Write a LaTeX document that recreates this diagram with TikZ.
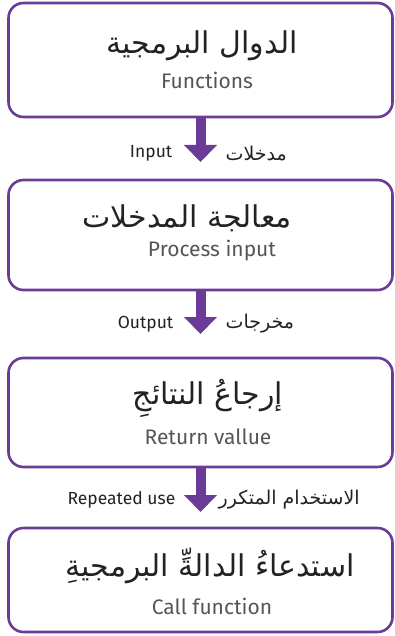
\documentclass[tikz,border=0pt]{standalone}
\usepackage{fontspec}
\setmainfont{Fira Sans}
\newfontfamily\arabicfont[Script=Arabic]{DejaVu Sans}
\TeXXeTstate=1
\usetikzlibrary{arrows.meta,positioning}
\definecolor{fpurple}{RGB}{107,59,151}
\definecolor{fgray}{RGB}{85,85,85}
\definecolor{fdark}{RGB}{34,34,34}

\begin{document}
\begin{tikzpicture}[
	x = 1pt, y = 1pt,
	flow/.style={draw=fpurple, line width=10pt, -{Triangle[width=32pt, length=17pt]}}, % thick arrow
	B/.style={rectangle, rounded corners=15pt, draw=fpurple, line width=2.6pt, minimum width=384pt, outer sep=0pt, inner sep=0pt},
	T/.style={font=\arabicfont\fontsize{30}{32}\selectfont, text=fdark, inner sep=0pt},   % arabic title
	S/.style={font=\fontsize{21}{24}\selectfont, text=fgray, inner sep=0pt},              % english subtitle
	L/.style={font=\fontsize{17.5}{20}\selectfont, text=fdark, inner sep=0pt},            % arrow labels
	LA/.style={font=\arabicfont\fontsize{19}{21}\selectfont, text=fdark, inner sep=0pt},
	]
	\useasboundingbox (0,0) rectangle (395,-636);

	% Boxes and their relative positions
	\node[B, minimum height=114pt] (F) at (200.5,-60) {};
	\node[B, minimum height=110pt] (P) [below = 63pt of F] {};
	\node[B, minimum height=109pt] (R) [below = 68pt of P] {};
	\node[B, minimum height=104pt] (C) [below = 61pt of R] {};

	% Texts in the boxes
	\node[T] (F1) at ([xshift=1.5pt, yshift=14pt]F.center) {\beginR الدوال البرمجية\endR};
	\node[S] (F2) at ([xshift=6.5pt, yshift=-20pt]F.center) {Functions};
	\node[T] (P1) at ([xshift=-13.5pt, yshift=17pt]P.center) {\beginR معالجة المدخلات\endR};
	\node[S] (P2) at ([xshift=11.5pt, yshift=-16pt]P.center) {Process input};
	\node[T] (R1) at ([xshift=7.5pt, yshift=14pt]R.center) {\beginR إرجاعُ النتائجِ\endR};
	\node[S] (R2) at ([xshift=7.5pt, yshift=-24.5pt]R.center) {Return vallue};
	\node[T] (C1) at ([xshift=9.5pt, yshift=14pt]C.center) {\beginR استدعاءُ الدالةِّ البرمجيةِ\endR};
	\node[S] (C2) at ([xshift=11.5pt, yshift=-26pt]C.center) {Call function};

	% Paths connecting boxes
	\draw[flow, shorten >=18pt] (F) -- coordinate (m1) (P);
	\draw[flow, shorten >=24pt] (P) -- coordinate (m2) (R);
	\draw[flow, shorten >=16pt] (R) -- coordinate (m3) (C);

	% Labels beside the arrows
	\node[L]  (in)  [left = 28pt of m1, yshift=-5pt] {Input};
	\node[LA] (inA) [right = 25pt of m1, yshift=-5pt] {\beginR مدخلات\endR};
	\node[L]  (out)  [left = 27pt of m2] {Output};
	\node[LA] (outA) [right = 25pt of m2] {\beginR مخرجات\endR};
	\node[L]  (rep)  [left = 25pt of m3, yshift=-2pt] {Repeated use};
	\node[LA] (repA) [right = 18pt of m3, yshift=-2pt] {\beginR الاستخدام المتكرر\endR};

\end{tikzpicture}
\end{document}
